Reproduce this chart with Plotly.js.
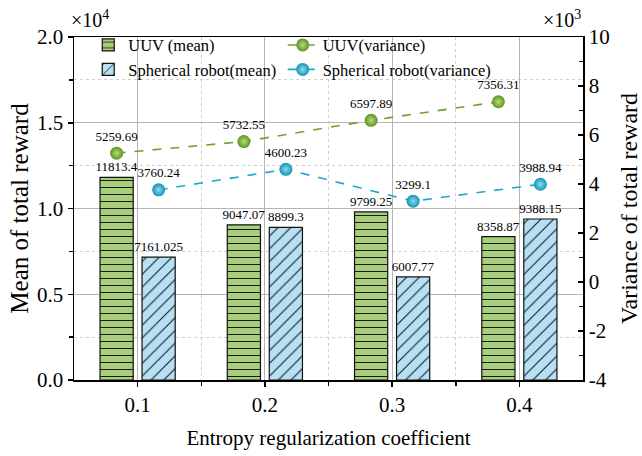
<!DOCTYPE html>
<html>
<head>
<meta charset="utf-8">
<script src="https://cdn.plot.ly/plotly-3.0.1.min.js"></script>
<style>
  html, body { margin: 0; padding: 0; background: #fff; }
  #chart { width: 642px; height: 456px; }
</style>
</head>
<body>
<div id="chart"></div>
<script>
// ---- data ----
const coef = [0.1, 0.2, 0.3, 0.4];
const coefLabels = ['0.1', '0.2', '0.3', '0.4'];
const uuvMean = [11813.4, 9047.07, 9799.25, 8358.87];
const sphMean = [7161.025, 8899.3, 6007.77, 9388.15];
const uuvVar = [5259.69, 5732.55, 6597.89, 7356.31];
const sphVar = [3760.24, 4600.23, 3299.1, 3988.94];
const meanTickVals = [0, 5000, 10000, 15000, 20000];
const meanTickText = ['0.0', '0.5', '1.0', '1.5', '2.0'];
const varTickVals = [-4000, -2000, 0, 2000, 4000, 6000, 8000, 10000];
const varTickText = ['-4', '-2', '0', '2', '4', '6', '8', '10'];

// ---- styling ----
const FONT = 'Liberation Serif';
const bargap = 0.34, bargroupgap = 0.21;
const step = coef[1] - coef[0];
const slot = step * (1 - bargap) / 2;          // width of each bar slot in a group
const uuvX = coef.map(v => v - slot / 2);      // centre of the UUV bar
const sphX = coef.map(v => v + slot / 2);      // centre of the spherical bar

const traces = [
  {
    type: 'bar', name: 'UUV (mean)', x: coef, y: uuvMean,
    text: uuvMean.map(String), textposition: 'outside', constraintext: 'none',
    textfont: { family: FONT, size: 13, color: '#000' }, cliponaxis: false,
    marker: { color: '#a8ce7c', line: { color: '#111', width: 1.2 },
      pattern: { shape: '-', fgcolor: '#1a1a1a', bgcolor: '#a8ce7c', size: 7, solidity: 0.15 } },
    legend: 'legend', yaxis: 'y'
  },
  {
    type: 'bar', name: 'Spherical robot(mean)', x: coef, y: sphMean,
    text: sphMean.map(String), textposition: 'outside', constraintext: 'none',
    textfont: { family: FONT, size: 13, color: '#000' }, cliponaxis: false,
    marker: { color: '#b6e0f4', line: { color: '#111', width: 1.2 },
      pattern: { shape: '/', fgcolor: '#1a1a1a', bgcolor: '#b6e0f4', size: 9, solidity: 0.12 } },
    legend: 'legend', yaxis: 'y'
  },
  {
    type: 'scatter', mode: 'lines+markers+text', name: 'UUV(variance)', x: uuvX, y: uuvVar,
    text: uuvVar.map(String), textposition: 'top center',
    textfont: { family: FONT, size: 13, color: '#000' }, cliponaxis: false,
    line: { color: '#6ea22e', width: 1.6, dash: 'dash' },
    marker: { size: 13, color: '#5f9220', gradient: { type: 'radial', color: '#b5dc7c' } },
    legend: 'legend2', yaxis: 'y2'
  },
  {
    type: 'scatter', mode: 'lines+markers+text', name: 'Spherical robot(variance)', x: sphX, y: sphVar,
    text: sphVar.map(String), textposition: 'top center',
    textfont: { family: FONT, size: 13, color: '#000' }, cliponaxis: false,
    line: { color: '#1aa8c9', width: 1.6, dash: 'dash' },
    marker: { size: 13, color: '#1193b6', gradient: { type: 'radial', color: '#8fdcef' } },
    legend: 'legend2', yaxis: 'y2'
  }
];

const gridMajor = '#b5b5b5';
const gridMinor = '#cfcfcf';

const layout = {
  width: 642, height: 456,
  margin: { l: 74, r: 59, t: 37, b: 76 },
  paper_bgcolor: '#fff', plot_bgcolor: '#fff',
  font: { family: FONT, size: 21, color: '#000' },
  barmode: 'group', bargap: bargap, bargroupgap: bargroupgap,
  showlegend: true,
  xaxis: {
    range: [0.05, 0.45], tickmode: 'array', tickvals: coef, ticktext: coefLabels,
    ticks: 'outside', ticklen: 5, tickwidth: 1.5, tickcolor: '#000',
    showline: true, linecolor: '#000', linewidth: 1.5, mirror: true,
    showgrid: true, gridcolor: gridMajor, gridwidth: 1, zeroline: false,
    tickfont: { family: FONT, size: 21 },
    minor: { tickvals: [0.15, 0.25, 0.35], ticks: 'outside', ticklen: 4, tickwidth: 1.5, tickcolor: '#000',
      showgrid: true, gridcolor: gridMinor, griddash: 'dot', gridwidth: 1 },
    title: { text: 'Entropy regularization coefficient', font: { family: FONT, size: 21 }, standoff: 14 }
  },
  yaxis: {
    range: [0, 20000], tickmode: 'array', tickvals: meanTickVals, ticktext: meanTickText,
    ticks: 'outside', ticklen: 5, tickwidth: 1.5, tickcolor: '#000',
    showline: true, linecolor: '#000', linewidth: 1.5,
    showgrid: true, gridcolor: gridMajor, gridwidth: 1, zeroline: false,
    tickfont: { family: FONT, size: 21 },
    minor: { tickvals: [2500, 7500, 12500, 17500], ticks: 'outside', ticklen: 4, tickwidth: 1.5, tickcolor: '#000',
      showgrid: true, gridcolor: gridMinor, griddash: 'dot', gridwidth: 1 },
    title: { text: 'Mean of total reward', font: { family: FONT, size: 25 }, standoff: 1 }
  },
  yaxis2: {
    overlaying: 'y', side: 'right',
    range: [-4000, 10000], tickmode: 'array', tickvals: varTickVals, ticktext: varTickText,
    ticks: 'inside', ticklen: 5, tickwidth: 1.5, tickcolor: '#000',
    showline: true, linecolor: '#000', linewidth: 1.5,
    showgrid: false, zeroline: false,
    tickfont: { family: FONT, size: 21 },
    minor: { tickvals: [-3000, -1000, 1000, 3000, 5000, 7000, 9000], ticks: 'inside', ticklen: 4, tickwidth: 1.5, tickcolor: '#000', showgrid: false },
    title: { text: 'Variance of total reward', font: { family: FONT, size: 24 }, standoff: 11 }
  },
  legend: {
    x: 0.028, y: 1.027, xanchor: 'left', yanchor: 'top',
    bgcolor: 'rgba(0,0,0,0)', font: { family: FONT, size: 16.5, color: '#000' }, tracegroupgap: 0, itemwidth: 30
  },
  legend2: {
    x: 0.41, y: 1.027, xanchor: 'left', yanchor: 'top',
    bgcolor: 'rgba(0,0,0,0)', font: { family: FONT, size: 16.5, color: '#000' }, tracegroupgap: 0, itemwidth: 30
  },
  annotations: [
    { xref: 'paper', yref: 'paper', x: 0, y: 1, xanchor: 'left', yanchor: 'bottom', xshift: -5, yshift: 4,
      text: '×10<sup>4</sup>', showarrow: false, font: { family: FONT, size: 20 } },
    { xref: 'paper', yref: 'paper', x: 1, y: 1, xanchor: 'right', yanchor: 'bottom', xshift: 0, yshift: 4,
      text: '×10<sup>3</sup>', showarrow: false, font: { family: FONT, size: 20 } }
  ]
};

Plotly.newPlot('chart', traces, layout, { displayModeBar: false, staticPlot: true });
</script>
</body>
</html>
